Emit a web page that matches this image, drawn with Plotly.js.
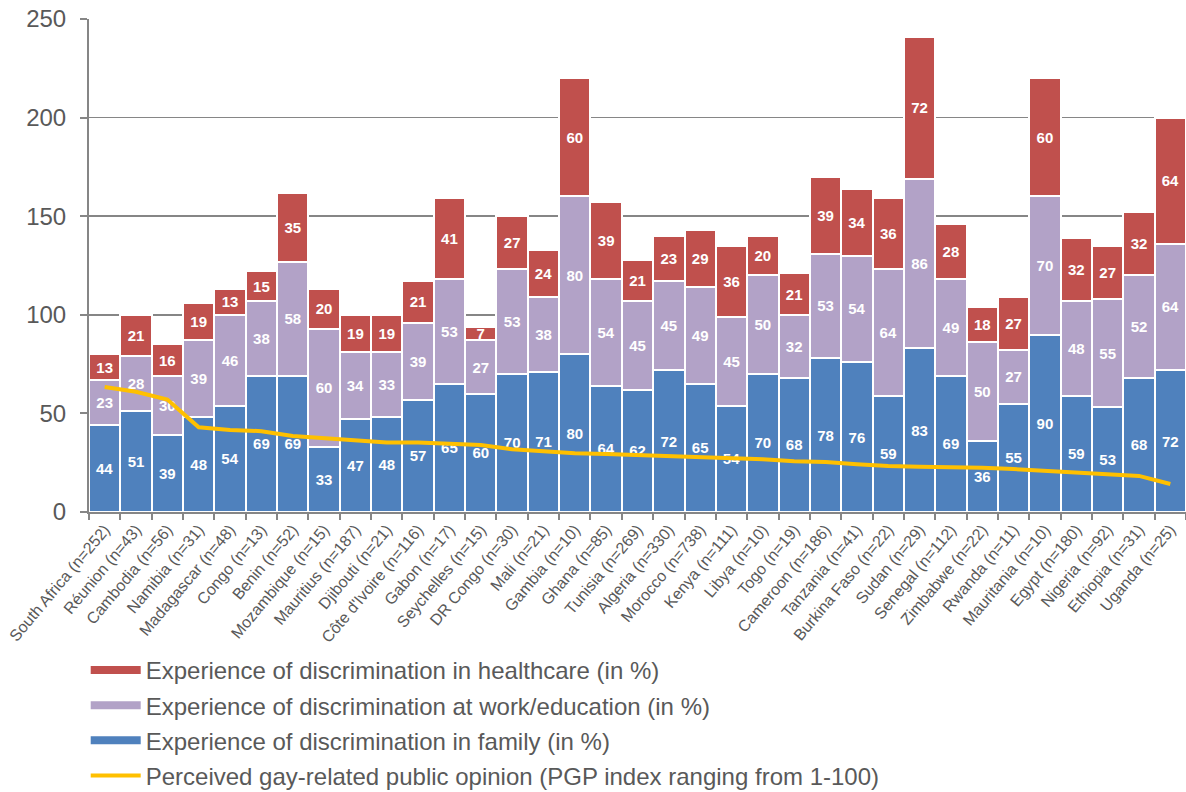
<!DOCTYPE html>
<html>
<head>
<meta charset="utf-8">
<script src="https://cdn.plot.ly/plotly-3.0.1.min.js"></script>
<style>html,body{margin:0;padding:0;background:#fff;}#chart{width:1186px;height:792px;}</style>
</head>
<body>
<div id="chart"></div>
<script>
const countries = ["South Africa (n=252)","Réunion (n=43)","Cambodia (n=56)","Namibia (n=31)","Madagascar (n=48)","Congo (n=13)","Benin (n=52)","Mozambique (n=15)","Mauritius (n=187)","Djibouti (n=21)","Côte d'Ivoire (n=116)","Gabon (n=17)","Seychelles (n=15)","DR Congo (n=30)","Mali (n=21)","Gambia (n=10)","Ghana (n=85)","Tunisia (n=269)","Algeria (n=330)","Morocco (n=738)","Kenya (n=111)","Libya (n=10)","Togo (n=19)","Cameroon (n=186)","Tanzania (n=41)","Burkina Faso (n=22)","Sudan (n=29)","Senegal (n=112)","Zimbabwe (n=22)","Rwanda (n=11)","Mauritania (n=10)","Egypt (n=180)","Nigeria (n=92)","Ethiopia (n=31)","Uganda (n=25)"];
const family = [44,51,39,48,54,69,69,33,47,48,57,65,60,70,71,80,64,62,72,65,54,70,68,78,76,59,83,69,36,55,90,59,53,68,72];
const work = [23,28,30,39,46,38,58,60,34,33,39,53,27,53,38,80,54,45,45,49,45,50,32,53,54,64,86,49,50,27,70,48,55,52,64];
const health = [13,21,16,19,13,15,35,20,19,19,21,41,7,27,24,60,39,21,23,29,36,20,21,39,34,36,72,28,18,27,60,32,27,32,64];
const pgp = [63.4,61,57,43,41.6,41,38.5,37.4,36.2,35.3,35.2,34.8,34,31.8,30.6,29.8,29.4,28.9,28,27.7,27,26.7,25.7,25.4,24.2,23.3,23,22.8,22.5,21.8,20.8,20.1,19.1,18.3,14.2];

const names = {
  health:'Experience of discrimination in healthcare (in %)',
  work:'Experience of discrimination at work/education (in %)',
  family:'Experience of discrimination in family (in %)',
  pgp:'Perceived gay-related public opinion (PGP index ranging from 1-100)'
};
const colors = {health:'#C0504D', work:'#B2A2C7', family:'#4F81BD', pgp:'#FFC000'};

const sans = "Liberation Sans, Arial, sans-serif";

function barTrace(vals, key){
  return {
    type:'bar', x:countries, y:vals, name:names[key], showlegend:false,
    marker:{color:colors[key], line:{color:'#ffffff', width:2}},
    text:vals.map(String), textposition:'inside', insidetextanchor:'middle', textangle:0,
    textfont:{family:sans, size:15, color:'#ffffff', weight:'bold'},
    hoverinfo:'x+y+name'
  };
}
function legendTrace(key, rank, width){
  return {type:'scatter', mode:'lines', x:[countries[0]], y:[null], name:names[key],
    line:{color:colors[key], width:width}, legendrank:rank, legendgroup:'g'+rank, hoverinfo:'skip'};
}

const data = [
  barTrace(family, 'family'),
  barTrace(work, 'work'),
  barTrace(health, 'health'),
  {type:'scatter', mode:'lines', x:countries, y:pgp, name:names.pgp, showlegend:false,
   line:{color:colors.pgp, width:4}},
  legendTrace('health', 1, 8),
  legendTrace('work', 2, 8),
  legendTrace('family', 3, 8),
  legendTrace('pgp', 4, 4)
];

const layout = {
  width:1186, height:792,
  margin:{l:89, r:0, t:19, b:280},
  barmode:'stack', bargap:0,
  paper_bgcolor:'#ffffff', plot_bgcolor:'#ffffff',
  showlegend:true,
  uniformtext:{mode:'show', minsize:15},
  legend:{orientation:'v', x:-0.003, xanchor:'left', yref:'container', y:0.182, yanchor:'top',
    traceorder:'grouped', tracegroupgap:1,
    font:{family:sans, size:24, color:'#595959'}, itemwidth:50, bgcolor:'rgba(0,0,0,0)'},
  xaxis:{type:'category', tickangle:-50, tickson:'boundaries', ticks:'outside', ticklen:6,
    tickcolor:'#868686', tickwidth:2, showline:true, linecolor:'#868686', linewidth:2,
    tickfont:{family:sans, size:16, color:'#595959'}, showgrid:false, automargin:false},
  yaxis:{range:[0,250], dtick:50, ticks:'outside', ticklen:7, tickcolor:'#868686', tickwidth:2,
    ticklabelstandoff:9,
    showline:true, linecolor:'#868686', linewidth:2, showgrid:true, gridcolor:'#868686', gridwidth:1.5,
    zeroline:false, tickfont:{family:sans, size:24, color:'#595959'}, automargin:false}
};

Plotly.newPlot('chart', data, layout, {displayModeBar:false, staticPlot:true});
</script>
</body>
</html>
